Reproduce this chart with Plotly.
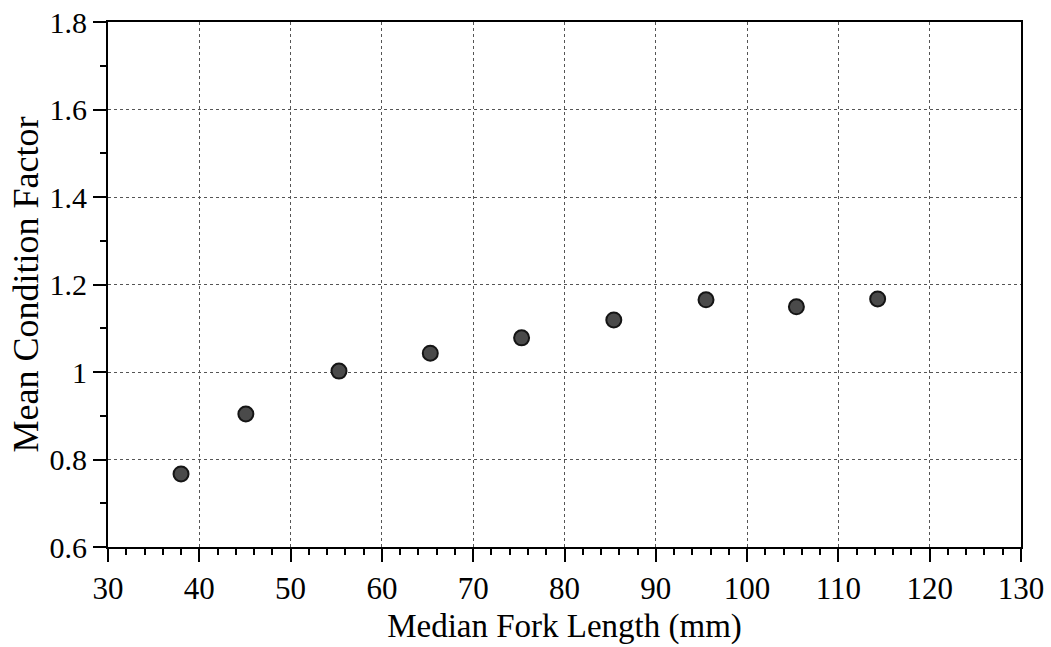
import plotly.graph_objects as go

fork_length = [38.0, 45.1, 55.3, 65.3, 75.3, 85.4, 95.5, 105.4, 114.3]
condition_factor = [0.767, 0.904, 1.002, 1.043, 1.078, 1.119, 1.165, 1.149, 1.167]

font = "Liberation Serif, Times New Roman, serif"

fig = go.Figure(go.Scatter(
    x=fork_length, y=condition_factor, mode="markers",
    marker=dict(size=15, color="#4a4a4a", line=dict(color="#151515", width=2)),
))

axis_common = dict(
    showline=True, linecolor="black", linewidth=2, mirror=True,
    showgrid=True, gridcolor="#555", griddash="dot", gridwidth=1,
    ticks="outside", tickcolor="black", tickwidth=2, ticklen=13,
    zeroline=False,
)

fig.update_xaxes(
    range=[30, 130], dtick=10, tick0=30, automargin=False,
    minor=dict(dtick=2, ticks="outside", ticklen=6, tickwidth=1.5, tickcolor="black", showgrid=False),
    tickfont=dict(family=font, size=31, color="black"),
    title=dict(text="Median Fork Length (mm)", font=dict(family=font, size=33, color="black"), standoff=9),
    **axis_common,
)
fig.update_yaxes(
    range=[0.6, 1.8], dtick=0.2, tick0=0.6, automargin="left",
    minor=dict(dtick=0.1, ticks="outside", ticklen=6, tickwidth=1.5, tickcolor="black", showgrid=False),
    tickfont=dict(family=font, size=30, color="black"),
    title=dict(text="Mean Condition Factor", font=dict(family=font, size=36, color="black"), standoff=0),
    **axis_common,
)

fig.update_layout(
    width=1051, height=647,
    margin=dict(l=108, r=30, t=22, b=100),
    plot_bgcolor="white", paper_bgcolor="white",
    showlegend=False,
)

fig.write_html("out.html")
